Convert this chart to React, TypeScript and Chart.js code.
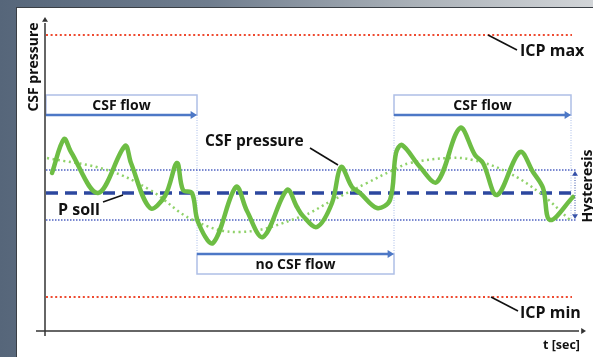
import React, { useEffect, useRef } from "react";
import { Chart, registerables } from "chart.js";

Chart.register(...registerables);

// time axis (arbitrary units) and pressure axis (arbitrary units)
const tMin = 0;
const tMax = 108;
const pMin = 0;
const pMax = 31.4;

// measured CSF pressure
const pressureT = [1.4, 3.8, 5.2, 10.6, 16, 17.2, 21, 24, 26.4, 27.6, 29.4, 30.6, 33.6, 38.2, 40.4, 43.6, 48.4, 50.4, 51.6, 54.4, 57.4, 59.2, 61.4, 63, 66.4, 69, 70.2, 71.4, 75, 78.4, 83, 86, 87.6, 90.4, 95, 97.6, 99.6, 101, 105.6];
const pressureP = [15.8, 19.2, 17.9, 13.8, 18.5, 16.8, 12.3, 13.5, 16.8, 14.1, 13.8, 10.9, 8.8, 14.4, 12.0, 9.4, 14.1, 12.4, 11.5, 10.4, 12.8, 16.4, 14.4, 13.8, 12.3, 13.1, 17.8, 18.6, 16.4, 14.9, 20.3, 17.6, 16.8, 13.6, 17.9, 15.9, 14.3, 11.1, 13.4];

// smoothed trend (light green dotted)
const trendT = [0.4, 12.4, 21, 29.6, 39, 51, 57.6, 64.4, 69.6, 73, 81, 85.6, 92.4, 99, 105];
const trendP = [17.3, 16.1, 14.1, 11.1, 9.9, 11.4, 13.1, 14.8, 16.1, 16.8, 17.3, 17.1, 15.9, 13.8, 11.1];

// reference levels
const icpMax = 29.6;
const icpMin = 3.4;
const pSoll = 13.8;
const hystHigh = 16.1;
const hystLow = 11.1;
const levelStart = 0.2;
const icpEnd = 105.4;
const levelEnd = 106.2;

// flow phases
const phaseLabels = ["CSF flow", "no CSF flow", "CSF flow"];
const phaseStart = [0.2, 30.4, 69.8];
const phaseEnd = [30.4, 69.8, 105.2];
const phaseFlow = [true, false, true];
const flowBoxTop = 23.6;
const flowArrowP = 21.6;
const noFlowArrowP = 7.7;
const noFlowBoxBottom = 5.7;
const hystArrowT = 106;

// labels
const yTitle = "CSF pressure";
const xTitle = "t [sec]";

const FONT = "'Open Sans', 'DejaVu Sans', sans-serif";

function line(ctx: CanvasRenderingContext2D, x1: number, y1: number, x2: number, y2: number) {
  ctx.beginPath();
  ctx.moveTo(x1, y1);
  ctx.lineTo(x2, y2);
  ctx.stroke();
}

function arrowHead(ctx: CanvasRenderingContext2D, x: number, y: number, dir: "r" | "u" | "d", size: number) {
  ctx.beginPath();
  if (dir === "r") {
    ctx.moveTo(x, y);
    ctx.lineTo(x - size * 1.6, y - size);
    ctx.lineTo(x - size * 1.6, y + size);
  } else if (dir === "u") {
    ctx.moveTo(x, y);
    ctx.lineTo(x - size, y + size * 1.6);
    ctx.lineTo(x + size, y + size * 1.6);
  } else {
    ctx.moveTo(x, y);
    ctx.lineTo(x - size, y - size * 1.6);
    ctx.lineTo(x + size, y - size * 1.6);
  }
  ctx.closePath();
  ctx.fill();
}

const decorPlugin = {
  id: "decor",
  beforeDatasetsDraw(chart: any) {
    const ctx: CanvasRenderingContext2D = chart.ctx;
    const xs = chart.scales.x;
    const ys = chart.scales.y;
    const X = (v: number) => xs.getPixelForValue(v);
    const Y = (v: number) => ys.getPixelForValue(v);
    ctx.save();
    // phase boxes
    for (let i = 0; i < phaseLabels.length; i++) {
      const x1 = X(phaseStart[i]);
      const x2 = X(phaseEnd[i]);
      const top = phaseFlow[i] ? Y(flowBoxTop) : Y(noFlowArrowP);
      const bot = phaseFlow[i] ? Y(flowArrowP) : Y(noFlowBoxBottom);
      ctx.strokeStyle = "#aebfe6";
      ctx.lineWidth = 1.5;
      ctx.setLineDash([]);
      ctx.strokeRect(x1, top, x2 - x1, bot - top);
    }
    // vertical dotted boundaries
    ctx.strokeStyle = "#a9bce8";
    ctx.lineWidth = 1;
    ctx.setLineDash([1, 1.5]);
    line(ctx, X(phaseEnd[0]), Y(flowArrowP), X(phaseEnd[0]), Y(noFlowArrowP));
    line(ctx, X(phaseEnd[1]), Y(flowArrowP), X(phaseEnd[1]), Y(noFlowArrowP));
    line(ctx, X(phaseEnd[2]), Y(flowArrowP), X(phaseEnd[2]), Y(hystLow));
    ctx.restore();
  },
  afterDatasetsDraw(chart: any) {
    const ctx: CanvasRenderingContext2D = chart.ctx;
    const xs = chart.scales.x;
    const ys = chart.scales.y;
    const X = (v: number) => xs.getPixelForValue(v);
    const Y = (v: number) => ys.getPixelForValue(v);
    const area = chart.chartArea;
    ctx.save();
    ctx.setLineDash([]);

    // phase arrows and labels
    for (let i = 0; i < phaseLabels.length; i++) {
      const x1 = X(phaseStart[i]);
      const x2 = X(phaseEnd[i]);
      const ay = phaseFlow[i] ? Y(flowArrowP) : Y(noFlowArrowP);
      const top = phaseFlow[i] ? Y(flowBoxTop) : Y(noFlowArrowP);
      const bot = phaseFlow[i] ? Y(flowArrowP) : Y(noFlowBoxBottom);
      ctx.strokeStyle = "#4d78c6";
      ctx.fillStyle = "#4d78c6";
      ctx.lineWidth = 2.5;
      line(ctx, x1, ay, x2 - 6, ay);
      arrowHead(ctx, x2, ay, "r", 4);
      ctx.fillStyle = "#111";
      ctx.font = "bold 14px " + FONT;
      ctx.textAlign = "center";
      ctx.textBaseline = "middle";
      ctx.fillText(phaseLabels[i], (x1 + x2) / 2, (top + bot) / 2 + 1);
    }

    // hysteresis arrow
    const hx = X(hystArrowT);
    ctx.strokeStyle = "#3550a8";
    ctx.fillStyle = "#3550a8";
    ctx.lineWidth = 1;
    ctx.setLineDash([1, 1.5]);
    line(ctx, hx, Y(hystHigh) + 5, hx, Y(hystLow) - 5);
    ctx.setLineDash([]);
    arrowHead(ctx, hx, Y(hystHigh) + 1, "u", 3);
    arrowHead(ctx, hx, Y(hystLow) - 1, "d", 3);
    ctx.save();
    ctx.translate(hx + 13, (Y(hystHigh) + Y(hystLow)) / 2 - 9);
    ctx.rotate(-Math.PI / 2);
    ctx.fillStyle = "#111";
    ctx.font = "bold 14px " + FONT;
    ctx.textAlign = "center";
    ctx.textBaseline = "middle";
    ctx.fillText("Hysteresis", 0, 0);
    ctx.restore();

    // leader lines
    ctx.strokeStyle = "#111";
    ctx.lineWidth = 1.6;
    line(ctx, X(88.6), Y(icpMax), X(94.4), Y(28.1));
    line(ctx, X(89.2), Y(icpMin), X(94.6), Y(2.0));
    line(ctx, X(53), Y(18.3), X(58.6), Y(16.6));
    line(ctx, X(11.6), Y(12.9), X(15.6), Y(13.6));

    // annotations
    ctx.fillStyle = "#111";
    ctx.font = "bold 16px " + FONT;
    ctx.textAlign = "left";
    ctx.textBaseline = "middle";
    ctx.fillText("ICP max", X(95), Y(28.0));
    ctx.fillText("ICP min", X(95), Y(1.8));
    ctx.fillText("P soll", X(2.6), Y(12.1));
    ctx.font = "bold 15.5px " + FONT;
    ctx.fillText("CSF pressure", X(32), Y(18.9));

    // axes
    ctx.strokeStyle = "#333";
    ctx.fillStyle = "#333";
    ctx.lineWidth = 1.5;
    const ax = X(tMin);
    const ay = Y(pMin);
    line(ctx, ax, area.top + 6, ax, ay + 5);
    arrowHead(ctx, ax, area.top, "u", 3);
    line(ctx, ax - 9, ay, area.right - 6, ay);
    arrowHead(ctx, area.right + 1, ay, "r", 3);

    // axis titles
    ctx.fillStyle = "#111";
    ctx.font = "bold 12.5px " + FONT;
    ctx.textAlign = "right";
    ctx.textBaseline = "middle";
    ctx.fillText(xTitle, area.right - 5, ay + 14);
    ctx.save();
    ctx.translate(ax - 11, area.top + 50);
    ctx.rotate(-Math.PI / 2);
    ctx.textAlign = "center";
    ctx.font = "bold 14px " + FONT;
    ctx.fillText(yTitle, 0, 0);
    ctx.restore();

    ctx.restore();
  },
};

function pts(ts: number[], ps: number[]) {
  return ts.map((t, i) => ({ x: t, y: ps[i] }));
}

export default function App() {
  const ref = useRef<HTMLCanvasElement | null>(null);
  useEffect(() => {
    if (!ref.current) return;
    const chart = new Chart(ref.current, {
      type: "line",
      data: {
        datasets: [
          {
            label: "CSF pressure",
            data: pts(pressureT, pressureP),
            borderColor: "#6dbd44",
            borderWidth: 4.5,
            tension: 0.35,
            pointRadius: 0,
            borderCapStyle: "round",
            borderJoinStyle: "round",
          },
          {
            label: "trend",
            data: pts(trendT, trendP),
            borderColor: "#90d26a",
            borderWidth: 2.5,
            borderDash: [2, 3.5],
            tension: 0.4,
            pointRadius: 0,
          },
          {
            label: "P soll",
            data: pts([levelStart, levelEnd], [pSoll, pSoll]),
            borderColor: "#2c479f",
            borderWidth: 3.5,
            borderDash: [12, 7],
            pointRadius: 0,
          },
          {
            label: "Hysteresis high",
            data: pts([levelStart, levelEnd], [hystHigh, hystHigh]),
            borderColor: "#4f62c2",
            borderWidth: 1.5,
            borderDash: [1.5, 1.5],
            pointRadius: 0,
          },
          {
            label: "Hysteresis low",
            data: pts([levelStart, levelEnd], [hystLow, hystLow]),
            borderColor: "#4f62c2",
            borderWidth: 1.5,
            borderDash: [1.5, 1.5],
            pointRadius: 0,
          },
          {
            label: "ICP max",
            data: pts([levelStart, icpEnd], [icpMax, icpMax]),
            borderColor: "#ee4a30",
            borderWidth: 2,
            borderDash: [2, 2.6],
            pointRadius: 0,
          },
          {
            label: "ICP min",
            data: pts([levelStart, icpEnd], [icpMin, icpMin]),
            borderColor: "#ee4a30",
            borderWidth: 2,
            borderDash: [2, 2.6],
            pointRadius: 0,
          },
        ],
      },
      options: {
        animation: false,
        responsive: false,
        devicePixelRatio: 1,
        layout: { padding: { left: 45, right: 8, top: 17, bottom: 26 } },
        plugins: { legend: { display: false }, tooltip: { enabled: false } },
        scales: {
          x: { type: "linear", min: tMin, max: tMax, display: false },
          y: { type: "linear", min: pMin, max: pMax, display: false },
        },
      },
      plugins: [decorPlugin],
    });
    return () => chart.destroy();
  }, []);

  return (
    <div
      style={{
        position: "fixed",
        left: 0,
        top: 0,
        width: 593,
        height: 357,
        overflow: "hidden",
        background: "linear-gradient(to right, #56667a 0%, #6f7d8e 35%, #aab1b8 70%, #d2d5d8 100%)",
      }}
    >
      <div
        style={{
          position: "absolute",
          left: 16,
          top: 7,
          right: 0,
          bottom: 0,
          background: "#fff",
          borderLeft: "1px solid #3a3f45",
          borderTop: "1px solid #3a3f45",
        }}
      />
      <canvas ref={ref} width={593} height={357} style={{ position: "absolute", left: 0, top: 0, width: 593, height: 357 }} />
    </div>
  );
}
